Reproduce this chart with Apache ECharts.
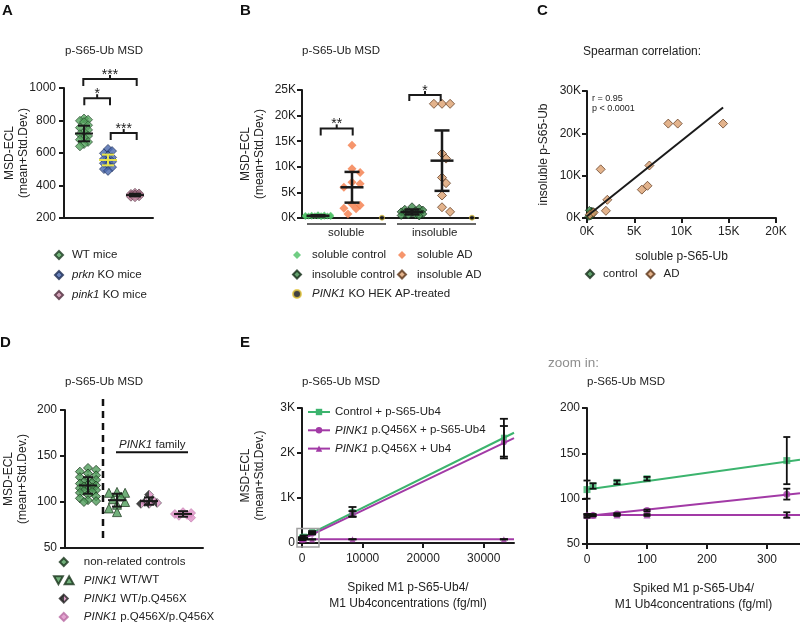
<!DOCTYPE html>
<html>
<head>
<meta charset="utf-8">
<title>p-S65-Ub MSD</title>
<script src="https://cdn.jsdelivr.net/npm/echarts@6.0.0/dist/echarts.min.js"></script>
<style>
  html, body { margin: 0; padding: 0; background: #ffffff; }
  #chart { width: 800px; height: 625px; }
</style>
</head>
<body>
<div id="chart"></div>
<script>
// ================= DATA =================
// Panel A
const aGroups = ['WT mice', 'prkn KO mice', 'pink1 KO mice'];
const aWT    = [812, 805, 798, 790, 771, 756, 742, 729, 716, 705, 694, 682, 668, 655, 641];
const aPrkn  = [625, 612, 598, 585, 573, 563, 554, 546, 537, 525, 513, 501, 490];
const aPink1 = [355, 351, 348, 345, 342, 340, 337, 334, 331, 328];
const aMean  = [720, 557, 341];
const aSD    = [48, 33, 8];
const aYTickLabels = ['200', '400', '600', '800', '1000'];

// Panel B
const bGroups  = ['soluble control', 'soluble AD', 'insoluble control', 'insoluble AD', 'PINK1 KO HEK AP-treated'];
const bSolCtrl = [640, 590, 560, 520, 490, 460, 440, 410, 390, 370, 350, 320, 300, 270, 240];
const bSolAD   = [14200, 9600, 8900, 7000, 6700, 6000, 2700, 2500, 1900, 1800, 800];
const bInsCtrl = [2200, 1900, 1700, 1550, 1400, 1300, 1200, 1100, 1000, 900, 800, 700, 600, 500, 400];
const bInsAD   = [22300, 22300, 22300, 12600, 11600, 7900, 6800, 4400, 2100, 1200];
const bPink1KO = [60, 60];
const bMean    = [430, 6000, 1180, 11200];
const bSD      = [120, 3000, 480, 5900];
const bFractions = ['soluble', 'insoluble'];
const bYTickLabels = ['0K', '5K', '10K', '15K', '20K', '25K'];

// Panel C
const cControl = [[200, 400], [300, 700], [350, 1000], [450, 1300], [500, 1600], [600, 1200], [400, 500], [550, 900], [250, 1800], [650, 1500]];
const cAD = [[14400, 22300], [9600, 22300], [8600, 22300], [6600, 12400], [1450, 11500], [6400, 7600], [5800, 6700], [2150, 4300], [2000, 1700], [300, 800], [700, 1300]];
const cFitX = [0, 14400];
const cFitY = [400, 26100];
const cStats = ['r = 0.95', 'p < 0.0001'];
const cXTickLabels = ['0K', '5K', '10K', '15K', '20K'];
const cYTickLabels = ['0K', '10K', '20K', '30K'];

// Panel D
const dGroups   = ['non-related controls', 'PINK1 WT/WT', 'PINK1 WT/p.Q456X', 'PINK1 p.Q456X/p.Q456X'];
const dControls = [137, 135, 133, 131, 129, 127, 125, 124, 122, 121, 120, 119, 118, 117, 116, 115, 114, 113, 112, 111, 110, 108, 106, 104, 102, 101, 100];
const dWTUp     = [111, 110, 106, 103];
const dWTDown   = [110, 100, 97, 93, 89];
const dHet      = [108, 102, 100, 99, 98, 98];
const dHom      = [89, 88, 87, 86, 85, 83];
const dMean     = [118, 102, 101, 87];
const dSD       = [9, 7, 4, 3];
const dYTickLabels = ['50', '100', '150', '200'];

// Panel E
const eSeries    = ['Control + p-S65-Ub4', 'PINK1 p.Q456X + p-S65-Ub4', 'PINK1 p.Q456X + Ub4'];
const eConc      = [0, 10, 50, 100, 333, 1667, 8333, 33333];
const eControl   = [110, 114, 118, 122, 142, 245, 690, 2340];
const eControlSD = [10, 3, 2, 2, 26, 20, 110, 420];
const ePinkS65   = [81, 81.5, 83, 87, 105, 205, 650, 2240];
const ePinkS65SD = [2, 1, 1, 1, 6, 15, 60, 360];
const ePinkUb4   = [82, 82, 82, 82, 82, 80, 82, 82];
const ePinkUb4SD = [1, 1, 1, 1, 3, 2, 4, 5];
const eFitX          = [0, 35000];
const eFitControl    = [112, 2450];
const eFitPinkS65    = [82, 2330];
const eFitPinkUb4    = [82, 82];
const eZoomFitX      = [0, 355];
const eZoomFitControl = [110, 143];
const eZoomFitPinkS65 = [81, 106];
const eZoomFitPinkUb4 = [82, 82];
const eYTickLabels = ['0', '1K', '2K', '3K'];
const eXTickLabels = ['0', '10000', '20000', '30000'];
const eZoomXTickLabels = ['0', '100', '200', '300'];
const eZoomYTickLabels = ['50', '100', '150', '200'];
const eXTitle = 'Spiked M1 p-S65-Ub4/\nM1 Ub4concentrations (fg/ml)';
const yTitle = 'MSD-ECL\n(mean+Std.Dev.)';

// ================= LAYOUT / STYLE =================
const FONT = "'Liberation Sans', Arial, Helvetica, sans-serif";
const INK = '#1a1a1a';
const TXT = '#222222';
const DIAMOND = 'path://M5,0L10,5L5,10L0,5Z';
const GRID = [
  {left: 64,  top: 88,  width: 89,  height: 130},   // A
  {left: 302, top: 90,  width: 176, height: 128},   // B
  {left: 587, top: 91,  width: 189, height: 127},   // C
  {left: 65,  top: 410, width: 138, height: 138},   // D
  {left: 302, top: 408, width: 212, height: 135},   // E left
  {left: 587, top: 408, width: 213, height: 136}    // E zoom
];
// group centres for the dot plots (x axes of A, B, D run in pixel units)
const aCenter = [20, 44, 71];
const bCenter = [16, 50, 80, 110, 140, 170];
const dCenter = [23, 52, 84, 118];
const pxA = GRID[0].height / 800, pxB = GRID[1].height / 25000, pxD = GRID[3].height / 150;

function zip(xs, ys) { return xs.map((x, i) => [x, ys[i]]); }

// deterministic beeswarm: offsets points sideways so they do not overlap
function swarm(values, center, pxPerUnit, size, maxHalf, minFrac) {
  const order = values.map((v, i) => i).sort((a, b) => values[b] - values[a] || a - b);
  const placed = [], out = new Array(values.length);
  const step = size * 0.45, minD = size * minFrac;
  for (const i of order) {
    const py = values[i] * pxPerUnit;
    let best = 0, bestD = -1;
    for (let k = 0; k < 200; k++) {
      const off = (k % 2 ? 1 : -1) * Math.ceil(k / 2) * step;
      if (Math.abs(off) > maxHalf) break;
      let d = Infinity;
      for (const p of placed) d = Math.min(d, Math.hypot(p[0] - off, p[1] - py));
      if (d >= minD) { best = off; bestD = d; break; }
      if (d > bestD) { bestD = d; best = off; }
    }
    placed.push([best, py]);
    out[i] = [center + best, values[i]];
  }
  return out;
}

function axisCfg(o) {
  const base = {
    type: 'value', splitLine: {show: false}, nameMoveOverlap: false,
    axisLine: {show: true, onZero: false, lineStyle: {color: INK, width: 2}},
    nameTextStyle: {color: TXT, fontSize: 12, fontFamily: FONT, lineHeight: 14}
  };
  const r = Object.assign(base, o);
  r.axisTick = Object.assign({show: true, length: 5, lineStyle: {color: INK, width: 2}}, o.axisTick || {});
  r.axisLabel = Object.assign({show: true, color: TXT, fontSize: 12, fontFamily: FONT, margin: 7}, o.axisLabel || {});
  return r;
}
const noTicks = {axisTick: {show: false}, axisLabel: {show: false}};
const yName = (gap) => ({name: yTitle, nameLocation: 'middle', nameRotate: 90, nameGap: gap});

function scatter(name, idx, data, symbol, size, style, z) {
  return {type: 'scatter', name, xAxisIndex: idx, yAxisIndex: idx, data, symbol, symbolSize: size,
    itemStyle: style, z: z || 3, emphasis: {disabled: true}, silent: true};
}
function fitLine(name, idx, data, color, symbol, z) {
  return {type: 'line', name, xAxisIndex: idx, yAxisIndex: idx, data, symbol, showSymbol: false, symbolSize: 7,
    lineStyle: {color, width: 2}, itemStyle: {color}, z: z || 4, emphasis: {disabled: true}, silent: true};
}
// mean +/- SD (or error bars) drawn through the axes
function summary(idx, items, o) {
  return {
    type: 'custom', xAxisIndex: idx, yAxisIndex: idx, z: o.z || 10, silent: true, clip: false, data: items,
    renderItem(params, api) {
      const x = api.value(0), m = api.value(1), s = api.value(2);
      const c = o.colors ? o.colors[params.dataIndex] : o.color;
      const pm = api.coord([x, m]), pt = api.coord([x, m + s]), pb = api.coord([x, m - s]);
      const st = {stroke: c, lineWidth: o.lw, fill: null};
      const L = (x1, y1, x2, y2) => ({type: 'line', shape: {x1, y1, x2, y2}, style: st});
      const ch = [L(pt[0], pt[1], pb[0], pb[1]),
        L(pt[0] - o.capW / 2, pt[1], pt[0] + o.capW / 2, pt[1]),
        L(pb[0] - o.capW / 2, pb[1], pb[0] + o.capW / 2, pb[1])];
      if (o.meanW) ch.push(L(pm[0] - o.meanW / 2, pm[1], pm[0] + o.meanW / 2, pm[1]));
      return {type: 'group', children: ch};
    }
  };
}
// annotations (significance brackets, group lines, zoom box) in data coordinates
function annot(idx, items, z) {
  return {
    type: 'custom', xAxisIndex: idx, yAxisIndex: idx, z: z || 6, silent: true, clip: false,
    data: items.map((_, i) => [i, 0]),
    renderItem(params, api) {
      const a = items[params.dataIndex];
      if (a.t === 'bracket') {
        const p1 = api.coord([a.x1, a.y]), p2 = api.coord([a.x2, a.y]);
        const y = p1[1], xm = (p1[0] + p2[0]) / 2;
        return {type: 'group', children: [
          {type: 'polyline', shape: {points: [[p1[0], y + a.leg], [p1[0], y], [p2[0], y], [p2[0], y + a.leg]]},
            style: {stroke: INK, lineWidth: 2, fill: null}},
          {type: 'line', shape: {x1: xm, y1: y, x2: xm, y2: y - 4}, style: {stroke: INK, lineWidth: 2}},
          {type: 'text', x: xm, y: y + 3, style: {text: a.label, align: 'center', verticalAlign: 'bottom',
            fontSize: 14, fontFamily: FONT, fill: INK}}
        ]};
      }
      if (a.t === 'line') {
        const p1 = api.coord(a.p1), p2 = api.coord(a.p2);
        return {type: 'line', shape: {x1: p1[0], y1: p1[1], x2: p2[0], y2: p2[1]},
          style: {stroke: a.color || INK, lineWidth: a.lw || 1.5, lineDash: a.dash || null}};
      }
      if (a.t === 'rect') {
        const p1 = api.coord(a.p1), p2 = api.coord(a.p2);
        return {type: 'rect', shape: {x: p1[0], y: p1[1], width: p2[0] - p1[0], height: p2[1] - p1[1]},
          style: {stroke: a.color, lineWidth: a.lw, fill: null}};
      }
      return null;
    }
  };
}

const ST = {
  wt:      {color: '#55a55e', borderColor: '#1d3b22', borderWidth: 0.8},
  prkn:    {color: '#4766ad', borderColor: '#1b2a52', borderWidth: 0.8},
  pink1:   {color: '#c88ca6', borderColor: '#4d2a3b', borderWidth: 0.8},
  solCtrl: {color: '#4cc064'},
  solAD:   {color: '#f47b47'},
  insCtrl: {color: '#3e8a4b', borderColor: '#132a17', borderWidth: 0.9},
  insAD:   {color: '#dca06f', borderColor: '#5b3419', borderWidth: 0.9},
  hek:     {color: '#111111', borderColor: '#e2c640', borderWidth: 1},
  dCtrl:   {color: '#4f9c5a', borderColor: '#173219', borderWidth: 0.9},
  het:     {color: {type: 'linear', x: 0, y: 0, x2: 1, y2: 0, colorStops: [
              {offset: 0, color: '#151515'}, {offset: 0.5, color: '#151515'},
              {offset: 0.5, color: '#d98cc0'}, {offset: 1, color: '#d98cc0'}]},
            borderColor: '#222', borderWidth: 0.6},
  hom:     {color: '#dc8fc4', borderColor: '#b86aa2', borderWidth: 0.6}
};
const GREEN = '#3cb46e', PURPLE = '#a23aa6';

// ---- derived series data ----
const dWT = swarm(dWTUp.concat(dWTDown), dCenter[1], pxD, 9, 9, 0.8);
const eZoomIdx = eConc.map((x, i) => i).filter(i => eConc[i] <= 355);
const pick = (arr) => eZoomIdx.map(i => arr[i]);
const errItems = (xs, ys, sds) => xs.map((x, i) => [x, ys[i], sds[i]]);

const legendBase = (o) => Object.assign({
  orient: 'vertical', padding: 0, itemWidth: 16, itemHeight: 8, itemGap: 8, selectedMode: false, symbolKeepAspect: true,
  textStyle: {color: TXT, fontSize: 11.5, fontFamily: FONT, lineHeight: 12,
    rich: {i: {fontStyle: 'italic', color: TXT, fontSize: 11.5, fontFamily: FONT, lineHeight: 12}}},
  formatter: (n) => n.replace(/^(PINK1|prkn|pink1)/, '{i|$1}')
}, o);

const T = (text, left, top, style) => ({text, left, top, padding: 0,
  textStyle: Object.assign({color: TXT, fontSize: 11.5, fontWeight: 'normal', fontFamily: FONT, lineHeight: 14}, style || {})});
const letter = (text, left, top) => T(text, left, top, {fontSize: 15, fontWeight: 'bold', lineHeight: 16, color: '#111'});

const option = {
  animation: false,
  backgroundColor: '#ffffff',
  textStyle: {fontFamily: FONT},
  title: [
    letter('A', 2, 3), letter('B', 240, 3), letter('C', 537, 3), letter('D', 0, 335), letter('E', 240, 335),
    T('p-S65-Ub MSD', 65, 44), T('p-S65-Ub MSD', 302, 44), T('Spearman correlation:', 583, 45, {fontSize: 12}),
    T('p-S65-Ub MSD', 65, 375), T('p-S65-Ub MSD', 302, 375), T('p-S65-Ub MSD', 587, 375),
    T('zoom in:', 548, 355, {fontSize: 13.5, lineHeight: 16, color: '#8e8e8e'}),
    T(cStats.join('\n'), 592, 93, {fontSize: 9, lineHeight: 10.5}),
    T('{i|PINK1} family', 119, 438, {rich: {i: {fontStyle: 'italic', fontSize: 11.5, fontFamily: FONT, color: TXT, lineHeight: 14}}}),
    T(bFractions[0], 328, 226), T(bFractions[1], 412, 226)
  ],
  grid: GRID.map(g => Object.assign({containLabel: false, outerBoundsMode: 'none'}, g)),
  xAxis: [
    axisCfg(Object.assign({gridIndex: 0, min: 0, max: GRID[0].width}, noTicks)),
    axisCfg(Object.assign({gridIndex: 1, min: 0, max: GRID[1].width}, noTicks)),
    axisCfg({gridIndex: 2, min: 0, max: 20000, interval: 5000, name: 'soluble p-S65-Ub', nameLocation: 'middle', nameGap: 32,
      axisLabel: {margin: 8, formatter: v => cXTickLabels[Math.round(v / 5000)]}}),
    axisCfg(Object.assign({gridIndex: 3, min: 0, max: GRID[3].width}, noTicks)),
    axisCfg({gridIndex: 4, min: 0, max: 35000, interval: 10000, name: eXTitle, nameLocation: 'middle', nameGap: 37,
      nameTextStyle: {color: TXT, fontSize: 12, fontFamily: FONT, lineHeight: 16},
      axisTick: {customValues: [0, 10000, 20000, 30000]},
      axisLabel: {margin: 10, customValues: [0, 10000, 20000, 30000], formatter: v => eXTickLabels[Math.round(v / 10000)]}}),
    axisCfg({gridIndex: 5, min: 0, max: 355, interval: 100, name: eXTitle, nameLocation: 'middle', nameGap: 37,
      nameTextStyle: {color: TXT, fontSize: 12, fontFamily: FONT, lineHeight: 16},
      axisTick: {customValues: [0, 100, 200, 300]},
      axisLabel: {margin: 10, customValues: [0, 100, 200, 300], formatter: v => eZoomXTickLabels[Math.round(v / 100)]}})
  ],
  yAxis: [
    axisCfg(Object.assign({gridIndex: 0, min: 200, max: 1000, interval: 200,
      axisLabel: {margin: 8, formatter: v => aYTickLabels[Math.round((v - 200) / 200)]}}, yName(33))),
    axisCfg(Object.assign({gridIndex: 1, min: 0, max: 25000, interval: 5000,
      axisLabel: {margin: 6, formatter: v => bYTickLabels[Math.round(v / 5000)]}}, yName(35))),
    axisCfg({gridIndex: 2, min: 0, max: 30000, interval: 10000, name: 'insoluble p-S65-Ub', nameLocation: 'middle', nameRotate: 90, nameGap: 36,
      axisLabel: {margin: 6, formatter: v => cYTickLabels[Math.round(v / 10000)]}}),
    axisCfg(Object.assign({gridIndex: 3, min: 50, max: 200, interval: 50,
      axisLabel: {margin: 8, formatter: v => dYTickLabels[Math.round((v - 50) / 50)]}}, yName(35))),
    axisCfg(Object.assign({gridIndex: 4, min: 0, max: 3000, interval: 1000,
      axisLabel: {margin: 7, formatter: v => eYTickLabels[Math.round(v / 1000)]}}, yName(35))),
    axisCfg({gridIndex: 5, min: 50, max: 200, interval: 50,
      axisLabel: {margin: 7, formatter: v => eZoomYTickLabels[Math.round((v - 50) / 50)]}})
  ],
  legend: [
    legendBase({data: aGroups, left: 54, top: 249, itemGap: 8}),
    legendBase({data: [bGroups[0], bGroups[2], bGroups[4]], left: 292, top: 249, itemWidth: 20, itemGap: 7.5}),
    legendBase({data: [bGroups[1], bGroups[3]], left: 397, top: 249, itemWidth: 20, itemGap: 7.5}),
    legendBase({orient: 'horizontal', data: ['control', 'AD'], left: 585, top: 268, itemGap: 8}),
    legendBase({data: [dGroups[0], {name: dGroups[1], icon: 'path://M0,0L10,0L5,9ZM12,9L22,9L17,0Z'}, dGroups[2], dGroups[3]],
      left: 53, top: 556, itemWidth: 30, itemGap: 6.3}),
    legendBase({data: eSeries, left: 307, top: 406, itemWidth: 22, itemGap: 6.3})
  ],
  series: [
    // ---------- A ----------
    scatter(aGroups[0], 0, swarm(aWT, aCenter[0], pxA, 9, 6, 0.6), DIAMOND, 9, ST.wt),
    scatter(aGroups[1], 0, swarm(aPrkn, aCenter[1], pxA, 9, 6, 0.6), DIAMOND, 9, ST.prkn),
    scatter(aGroups[2], 0, swarm(aPink1, aCenter[2], pxA, 9, 6, 0.6), DIAMOND, 9, ST.pink1),
    summary(0, aCenter.map((c, i) => [c, aMean[i], aSD[i]]), {colors: [INK, '#e8e34a', INK], lw: 2, meanW: 18, capW: 12}),
    annot(0, [
      {t: 'bracket', x1: 20.3, x2: 46, y: 937, leg: 7, label: '*'},
      {t: 'bracket', x1: 19.3, x2: 72.7, y: 1055, leg: 7, label: '***'},
      {t: 'bracket', x1: 46.7, x2: 72.7, y: 723, leg: 7, label: '***'}
    ]),
    // ---------- B ----------
    scatter(bGroups[0], 1, swarm(bSolCtrl, bCenter[0], pxB, 7, 13, 0.6), DIAMOND, 7, ST.solCtrl),
    scatter(bGroups[1], 1, swarm(bSolAD, bCenter[1], pxB, 9, 12, 0.75), DIAMOND, 9, ST.solAD),
    scatter(bGroups[2], 1, swarm(bInsCtrl, bCenter[3], pxB, 8, 13, 0.6), DIAMOND, 8, ST.insCtrl),
    scatter(bGroups[3], 1, swarm(bInsAD, bCenter[4], pxB, 9, 12, 0.72), DIAMOND, 9, ST.insAD),
    scatter(bGroups[4], 1, [[bCenter[2], bPink1KO[0]], [bCenter[5], bPink1KO[1]]], 'circle', 5, ST.hek, 5),
    summary(1, [[bCenter[0], bMean[0], bSD[0]], [bCenter[1], bMean[1], bSD[1]], [bCenter[3], bMean[2], bSD[2]], [bCenter[4], bMean[3], bSD[3]]],
      {color: INK, lw: 2.5, meanW: 23, capW: 15}),
    annot(1, [
      {t: 'bracket', x1: 18.7, x2: 50.7, y: 17500, leg: 7, label: '**'},
      {t: 'bracket', x1: 107.3, x2: 138.7, y: 24000, leg: 6, label: '*'},
      {t: 'line', p1: [5, -1170], p2: [84, -1170], lw: 1.5, color: '#333'},
      {t: 'line', p1: [95, -1170], p2: [174, -1170], lw: 1.5, color: '#333'}
    ]),
    // ---------- C ----------
    fitLine('fit C', 2, zip(cFitX, cFitY), INK, 'none', 5),
    scatter('control', 2, cControl, DIAMOND, 8, ST.insCtrl, 4),
    scatter('AD', 2, cAD, DIAMOND, 9, ST.insAD, 4),
    // ---------- D ----------
    scatter(dGroups[0], 3, swarm(dControls, dCenter[0], pxD, 9, 10, 0.8), DIAMOND, 9, ST.dCtrl),
    scatter(dGroups[1], 3, dWT.slice(0, dWTUp.length), 'triangle', 9, ST.dCtrl),
    scatter(dGroups[1], 3, dWT.slice(dWTUp.length), 'triangle', 9, Object.assign({}, ST.dCtrl), 3),
    scatter(dGroups[2], 3, swarm(dHet, dCenter[2], pxD, 9, 10, 0.75), DIAMOND, 9, ST.het),
    scatter(dGroups[3], 3, swarm(dHom, dCenter[3], pxD, 9, 10, 0.7), DIAMOND, 9, ST.hom),
    summary(3, dCenter.map((c, i) => [c, dMean[i], dSD[i]]), {color: INK, lw: 2, meanW: 18, capW: 10}),
    annot(3, [
      {t: 'line', p1: [38, 61], p2: [38, 214], lw: 2.5, dash: [7, 5], color: '#111'},
      {t: 'line', p1: [51, 154], p2: [123, 154], lw: 2, color: '#111'}
    ]),
    // ---------- E left ----------
    fitLine(eSeries[0], 4, zip(eFitX, eFitControl), GREEN, 'rect'),
    fitLine(eSeries[1], 4, zip(eFitX, eFitPinkS65), PURPLE, 'circle'),
    fitLine(eSeries[2], 4, zip(eFitX, eFitPinkUb4), PURPLE, 'triangle'),
    scatter('Control pts', 4, zip(eConc, eControl), 'rect', 6, {color: GREEN}, 5),
    scatter('S65 pts', 4, zip(eConc, ePinkS65), 'circle', 6, {color: PURPLE}, 5),
    scatter('Ub4 pts', 4, zip(eConc, ePinkUb4), 'triangle', 6, {color: PURPLE}, 5),
    summary(4, errItems(eConc, eControl, eControlSD).concat(errItems(eConc, ePinkS65, ePinkS65SD), errItems(eConc, ePinkUb4, ePinkUb4SD)),
      {color: '#111', lw: 1.8, capW: 8}),
    annot(4, [{t: 'rect', p1: [-830, 325], p2: [2800, -90], color: '#a0a0a0', lw: 1.5}], 7),
    // ---------- E zoom ----------
    fitLine('Control zoom', 5, zip(eZoomFitX, eZoomFitControl), GREEN, 'rect'),
    fitLine('S65 zoom', 5, zip(eZoomFitX, eZoomFitPinkS65), PURPLE, 'circle'),
    fitLine('Ub4 zoom', 5, zip(eZoomFitX, eZoomFitPinkUb4), PURPLE, 'triangle'),
    scatter('Control zoom pts', 5, zip(pick(eConc), pick(eControl)), 'rect', 7, {color: GREEN}, 5),
    scatter('S65 zoom pts', 5, zip(pick(eConc), pick(ePinkS65)), 'circle', 7, {color: PURPLE}, 5),
    scatter('Ub4 zoom pts', 5, zip(pick(eConc), pick(ePinkUb4)), 'triangle', 7, {color: PURPLE}, 5),
    summary(5, errItems(pick(eConc), pick(eControl), pick(eControlSD)).concat(
      errItems(pick(eConc), pick(ePinkS65), pick(ePinkS65SD)), errItems(pick(eConc), pick(ePinkUb4), pick(ePinkUb4SD))),
      {color: '#111', lw: 1.8, capW: 7})
  ]
};

const chart = echarts.init(document.getElementById('chart'), null, {renderer: 'canvas', width: 800, height: 625});
chart.setOption(option);
</script>
</body>
</html>
